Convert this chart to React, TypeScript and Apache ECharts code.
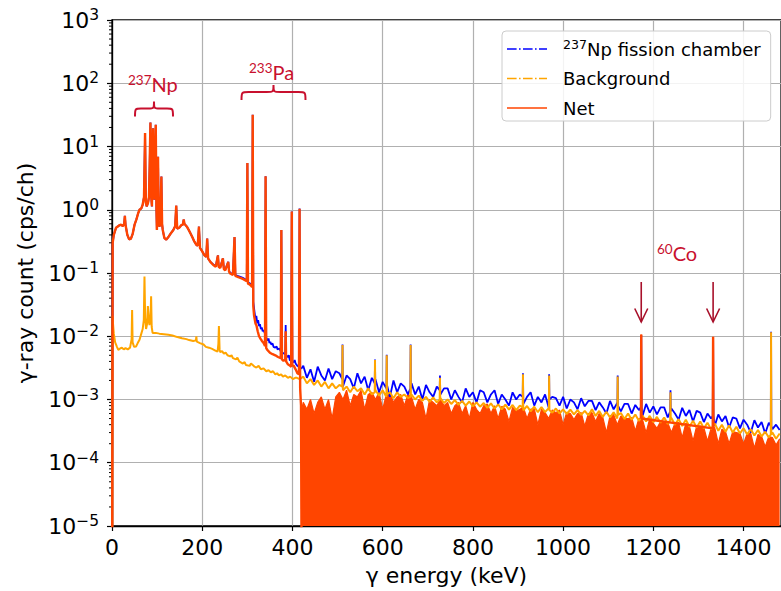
import React, { useEffect, useRef } from "react";
import * as echarts from "echarts";

type P = [number, number];

// ---------- axes ----------
const xMin = 0;
const xMax = 1483;
const xStep = 200;
const yMin = 1e-5;
const yMax = 1e3;

// ---------- legend ----------
const legendNames = ["237Np fission chamber", "Background", "Net"];

// ---------- Net (0 - 420 keV), [keV, cps/ch] ----------
const netLow: P[] = [
  [0.3, 1e-6], [1.5, 0.30], [4, 0.40], [9, 0.52], [15, 0.56], [20, 0.58], [24, 0.55], [27, 0.60], [28.5, 0.80], [30, 0.58],
  [34, 0.40], [38, 0.34], [42, 0.35], [46, 0.42], [50, 0.58], [54, 0.70], [58, 0.88], [61, 1.0], [65, 1.05], [68, 1.2],
  [71, 1.6], [73.3, 16.3], [75, 1.3], [77, 1.13], [80, 1.3], [82, 1.6], [83.5, 5.0], [85.2, 23.9], [87, 1.6], [88.5, 1.13],
  [89.5, 4.0], [91, 19.5], [92.5, 2.0], [93.5, 1.44], [95, 3.5], [97, 22], [98.5, 1.0], [99.5, 0.48], [100.8, 1.2], [102, 6.9],
  [103.5, 0.8], [105, 0.54], [107, 0.6], [109.5, 3.36], [111, 0.6], [112.5, 0.48], [116, 0.36], [120, 0.336], [125, 0.37], [131, 0.43],
  [136, 0.48], [140, 0.55], [142.4, 1.16], [144.5, 0.5], [149, 0.52], [153.5, 0.57], [157, 0.58], [159, 0.7], [160.5, 0.6], [166, 0.54],
  [170, 0.48], [173.5, 0.43], [178, 0.37], [182, 0.32], [186.8, 0.28], [190, 0.27], [192.7, 0.54], [195, 0.25], [200, 0.22], [205, 0.19],
  [209, 0.18], [211, 0.35], [213, 0.17], [218, 0.15], [224, 0.135], [230, 0.125], [234.8, 0.19], [236.5, 0.125], [240, 0.12], [245.8, 0.17],
  [248, 0.115], [251, 0.11], [257.7, 0.15], [259.5, 0.105], [262, 0.098], [268, 0.093], [271.6, 0.37], [273.5, 0.09], [280, 0.086], [286, 0.083],
  [291, 0.08], [296, 0.076], [298.8, 0.074], [300.1, 5.5], [301.4, 0.068], [305, 0.066], [309, 0.062], [310.6, 0.06], [311.9, 31.7], [313.2, 0.03],
  [315, 0.021], [318, 0.016], [320, 0.015], [323, 0.012], [326, 0.010], [329, 0.0092], [332, 0.0085], [336, 0.0078], [339.2, 0.007], [340.5, 3.4],
  [341.8, 0.0065], [345, 0.006], [350, 0.0055], [356, 0.0052], [362, 0.005], [368, 0.0047], [374.1, 0.0045], [375.4, 0.48], [376.7, 0.0043], [380, 0.0041],
  [384, 0.0042], [385, 0.012], [386, 0.004], [390, 0.0036], [395, 0.0034], [397.2, 0.0033], [398.5, 0.94], [399.8, 0.0035], [403, 0.0034], [407, 0.0030],
  [411, 0.0026], [414.5, 0.0025], [415.8, 1.04], [417.1, 0.0015], [419, 0.0008], [420.5, 1e-6],
];

// ---------- 237Np fission chamber (0 - 420 keV) ----------
const blueLow: P[] = [
  [0.3, 1e-6], [1.5, 0.30], [4, 0.40], [9, 0.52], [15, 0.56], [20, 0.58], [24, 0.55], [27, 0.60], [28.5, 0.80], [30, 0.58],
  [34, 0.40], [38, 0.34], [42, 0.35], [46, 0.42], [50, 0.58], [54, 0.70], [58, 0.88], [61, 1.0], [65, 1.05], [68, 1.2],
  [71, 1.6], [73.3, 16.3], [75, 1.3], [77, 1.13], [80, 1.3], [82, 1.6], [83.5, 5.0], [85.2, 23.9], [87, 1.6], [88.5, 1.13],
  [89.5, 4.0], [91, 19.5], [92.5, 2.0], [93.5, 1.44], [95, 3.5], [97, 22], [98.5, 1.0], [99.5, 0.48], [100.8, 1.2], [102, 6.9],
  [103.5, 0.8], [105, 0.54], [107, 0.6], [109.5, 3.36], [111, 0.6], [112.5, 0.48], [116, 0.36], [120, 0.336], [125, 0.37], [131, 0.43],
  [136, 0.48], [140, 0.55], [142.4, 1.16], [144.5, 0.5], [149, 0.52], [153.5, 0.57], [157, 0.58], [159, 0.7], [160.5, 0.6], [166, 0.54],
  [170, 0.48], [173.5, 0.43], [178, 0.37], [182, 0.32], [186.8, 0.28], [190, 0.27], [192.7, 0.54], [195, 0.25], [200, 0.22], [205, 0.19],
  [209, 0.18], [211, 0.35], [213, 0.17], [218, 0.15], [224, 0.138], [230, 0.128], [234.8, 0.19], [236.5, 0.128], [240, 0.124], [245.8, 0.17],
  [248, 0.118], [251, 0.113], [257.7, 0.15], [259.5, 0.108], [262, 0.101], [268, 0.096], [271.6, 0.37], [273.5, 0.093], [280, 0.089], [286, 0.086],
  [291, 0.083], [296, 0.079], [298.8, 0.077], [300.1, 5.5], [301.4, 0.071], [305, 0.069], [309, 0.066], [310.6, 0.064], [311.9, 31.7], [313.2, 0.035],
  [316, 0.024], [318, 0.019], [320, 0.021], [322, 0.016], [324, 0.018], [326, 0.0145], [328, 0.0155], [330, 0.013], [332, 0.0138], [334, 0.012],
  [336, 0.0125], [339.2, 0.011], [340.5, 3.4], [341.8, 0.0095], [345, 0.0085], [347, 0.0092], [349, 0.0078], [351, 0.0082], [353, 0.0074], [356, 0.0077],
  [358, 0.0068], [362, 0.0066], [365, 0.0069], [367, 0.0062], [371, 0.0064], [374.1, 0.0058], [375.4, 0.48], [376.7, 0.0056], [380, 0.0054], [384, 0.0052],
  [385, 0.015], [386, 0.005], [390, 0.0047], [392, 0.0050], [394, 0.0042], [397.2, 0.0041], [398.5, 0.94], [399.8, 0.004], [403, 0.0039], [405, 0.0042],
  [407, 0.0037], [411, 0.0034], [414.5, 0.0033], [415.8, 1.05], [417.1, 0.0032], [420, 0.0031],
];

// ---------- Background (0 - 420 keV) ----------
const bgLow: P[] = [
  [0.5, 1e-6], [1.2, 0.021], [2.5, 0.015], [4, 0.011], [7, 0.008], [11, 0.0068], [14, 0.0061], [18, 0.0064], [22, 0.0066], [26, 0.0062],
  [30, 0.0065], [35, 0.0062], [40, 0.0066], [43.5, 0.009], [44.6, 0.026], [45.7, 0.008], [49, 0.0068], [53.5, 0.0069], [57, 0.0078], [61, 0.0088],
  [65, 0.011], [68, 0.013], [70.5, 0.018], [72, 0.088], [73.5, 0.02], [75.5, 0.013], [78, 0.016], [79.5, 0.03], [81, 0.022], [83, 0.015],
  [85.5, 0.02], [86.7, 0.043], [88, 0.014], [90, 0.0113], [97, 0.0113], [105, 0.011], [115, 0.0108], [125, 0.0106], [134, 0.0103], [145, 0.0097],
  [155, 0.0093], [165, 0.009], [171, 0.0087], [180, 0.0084], [186, 0.0086], [187, 0.01], [188, 0.0082], [195, 0.0078], [203, 0.0074], [208, 0.0068],
  [215, 0.0066], [222, 0.0063], [228, 0.006], [234, 0.0057], [235.8, 0.0076], [237, 0.0145], [238.5, 0.0062], [240, 0.0056], [244, 0.0058], [248, 0.0053],
  [252, 0.0055], [256, 0.005], [262, 0.0048], [265, 0.0050], [268, 0.0045], [275, 0.0043], [278, 0.0046], [282, 0.004], [290, 0.0037], [294, 0.0039],
  [297, 0.0035], [305, 0.0034], [308, 0.0037], [312, 0.0035], [316, 0.0033], [320, 0.0032], [325, 0.0034], [330, 0.003], [336, 0.0031], [342, 0.0028],
  [347, 0.0029], [352, 0.0027], [357, 0.0028], [362, 0.0025], [366, 0.0026], [370, 0.0024], [375, 0.0025], [379, 0.0023], [384, 0.0024], [390, 0.0022],
  [395, 0.0023], [401, 0.0021], [406, 0.0022], [410, 0.0022], [416, 0.0021], [420, 0.0022],
];

// ---------- 420 - 1480 keV continuum ----------
const noiseEnergy = [
  424, 432, 440, 448, 456, 464, 472, 480, 488, 496,
  504, 512, 520, 528, 536, 544, 552, 560, 568, 576,
  584, 592, 600, 608, 616, 624, 632, 640, 648, 656,
  664, 672, 680, 688, 696, 704, 712, 720, 728, 736,
  744, 752, 760, 768, 776, 784, 792, 800, 808, 816,
  824, 832, 840, 848, 856, 864, 872, 880, 888, 896,
  904, 912, 920, 928, 936, 944, 952, 960, 968, 976,
  984, 992, 1000, 1008, 1016, 1024, 1032, 1040, 1048, 1056,
  1064, 1072, 1080, 1088, 1096, 1104, 1112, 1120, 1128, 1136,
  1144, 1152, 1160, 1168, 1176, 1184, 1192, 1200, 1208, 1216,
  1224, 1232, 1240, 1248, 1256, 1264, 1272, 1280, 1288, 1296,
  1304, 1312, 1320, 1328, 1336, 1344, 1352, 1360, 1368, 1376,
  1384, 1392, 1400, 1408, 1416, 1424, 1432, 1440, 1448, 1456, 1464, 1472, 1480,
];
const blueNoise = [
  0.0034, 0.0022, 0.0030, 0.0019, 0.0033, 0.0024, 0.0020, 0.0031, 0.0021, 0.0028,
  0.0026, 0.0016, 0.0024, 0.0021, 0.0015, 0.0026, 0.0018, 0.0023, 0.0014, 0.0022,
  0.0021, 0.0013, 0.0019, 0.0015, 0.0011, 0.0020, 0.0013, 0.0018, 0.0016, 0.0012,
  0.0018, 0.0012, 0.0016, 0.0010, 0.0017, 0.0013, 0.0011, 0.0016, 0.0012, 0.0015,
  0.0015, 0.0010, 0.0014, 0.0011, 0.0009, 0.0015, 0.0011, 0.0013, 0.0009, 0.0014,
  0.0013, 0.0009, 0.0012, 0.0014, 0.00085, 0.0012, 0.0010, 0.0008, 0.0013, 0.0010,
  0.0012, 0.00085, 0.0011, 0.0013, 0.0008, 0.0011, 0.0009, 0.0012, 0.00075, 0.0011,
  0.00105, 0.0008, 0.0011, 0.00072, 0.0010, 0.0009, 0.0007, 0.00105, 0.00078, 0.00095,
  0.00095, 0.00068, 0.0009, 0.00075, 0.0006, 0.00095, 0.0007, 0.00088, 0.00065, 0.00085,
  0.00085, 0.0006, 0.00082, 0.00068, 0.00055, 0.00085, 0.00062, 0.00078, 0.00058, 0.00075,
  0.00075, 0.00052, 0.00072, 0.0006, 0.00048, 0.00074, 0.00055, 0.00068, 0.00045, 0.00066,
  0.00062, 0.00044, 0.0006, 0.0005, 0.00038, 0.00058, 0.00045, 0.00055, 0.00036, 0.00052,
  0.0005, 0.00035, 0.00048, 0.0004, 0.0003, 0.00047, 0.00036, 0.00044, 0.00029, 0.00043, 0.00034, 0.0004, 0.00033,
];
const bgNoise = [
  0.0023, 0.0018, 0.0021, 0.0017, 0.0020, 0.0016, 0.0019, 0.0015, 0.0018, 0.0015,
  0.0017, 0.0014, 0.0016, 0.0013, 0.0016, 0.00135, 0.0015, 0.0012, 0.0015, 0.0012,
  0.0014, 0.00115, 0.0014, 0.0011, 0.0013, 0.00105, 0.0013, 0.0011, 0.0012, 0.00105,
  0.0012, 0.0010, 0.00115, 0.00095, 0.0011, 0.00092, 0.00108, 0.0009, 0.00105, 0.00088,
  0.0010, 0.00085, 0.00098, 0.00082, 0.00095, 0.0008, 0.00093, 0.00078, 0.0009, 0.00077,
  0.00088, 0.00074, 0.00087, 0.00072, 0.00084, 0.0007, 0.00083, 0.00069, 0.00082, 0.00068,
  0.0008, 0.00067, 0.00079, 0.00065, 0.00077, 0.00063, 0.00076, 0.00063, 0.00073, 0.00062,
  0.00072, 0.0006, 0.0007, 0.00059, 0.00069, 0.00058, 0.00068, 0.00057, 0.00066, 0.00056,
  0.0007, 0.00055, 0.00066, 0.00053, 0.00064, 0.00052, 0.00063, 0.0005, 0.00061, 0.00049,
  0.0006, 0.00048, 0.00058, 0.00046, 0.00056, 0.00045, 0.00055, 0.00044, 0.00053, 0.00043,
  0.00052, 0.00041, 0.00051, 0.0004, 0.00049, 0.00038, 0.00048, 0.00037, 0.00046, 0.00036,
  0.00045, 0.00035, 0.00043, 0.00034, 0.00042, 0.00032, 0.0004, 0.00031, 0.00039, 0.0003,
  0.00037, 0.00029, 0.00035, 0.00028, 0.00034, 0.00027, 0.00033, 0.00026, 0.00031, 0.00025, 0.0003, 0.00024, 0.00029,
];
// upper edge of the net counts (the lower edge is below 1e-5)
const netNoise = [
  0.0009, 0.0007, 0.0010, 0.0006, 0.0009, 0.0011, 0.0007, 0.0010, 0.0005, 0.0011,
  0.0013, 0.0010, 0.0014, 0.0008, 0.0012, 0.0011, 0.0014, 0.0007, 0.0012, 0.0013,
  0.0010, 0.0013, 0.0007, 0.0012, 0.0013, 0.0009, 0.0011, 0.0012, 0.0008, 0.0012,
  0.0011, 0.0007, 0.0010, 0.0009, 0.0005, 0.0010, 0.0009, 0.0008, 0.0010, 0.0008,
  0.0009, 0.0006, 0.0008, 0.0009, 0.0006, 0.0008, 0.0005, 0.0009, 0.0007, 0.0006,
  0.0008, 0.00085, 0.0006, 0.0008, 0.0005, 0.00078, 0.0007, 0.00045, 0.00075, 0.00065,
  0.0007, 0.00075, 0.0005, 0.0007, 0.00072, 0.0004, 0.0007, 0.00062, 0.0005, 0.00068,
  0.00062, 0.00068, 0.0004, 0.00063, 0.0006, 0.00048, 0.0006, 0.00062, 0.00038, 0.0006,
  0.00062, 0.00045, 0.0006, 0.00052, 0.0003, 0.00055, 0.00058, 0.0004, 0.00055, 0.0005,
  0.0005, 0.00052, 0.00032, 0.0005, 0.00048, 0.0003, 0.0005, 0.00042, 0.00035, 0.00045,
  0.00044, 0.00043, 0.0003, 0.00042, 0.00043, 0.00025, 0.00042, 0.00038, 0.00022, 0.00038,
  0.00038, 0.00036, 0.00022, 0.00035, 0.00036, 0.0002, 0.00034, 0.00031, 0.0002, 0.00031,
  0.0003, 0.00029, 0.0002, 0.00029, 0.00029, 0.00017, 0.00028, 0.00026, 0.00018, 0.00026, 0.00025, 0.00019, 0.00024,
];

// ---------- lines above 420 keV ----------
const bluePeaks: P[] = [
  [510.4, 0.0021], [511, 0.0074], [511.6, 0.0021],
  [582.4, 0.0018], [583, 0.0043], [583.6, 0.0018],
  [608.4, 0.0017], [609, 0.0051], [609.6, 0.0017],
  [661.4, 0.0015], [662, 0.0074], [662.6, 0.0015],
  [726.4, 0.0014], [727, 0.0024], [727.6, 0.0014],
  [910.4, 0.0011], [911, 0.0026], [911.6, 0.0011],
  [968.4, 0.0010], [969, 0.0025], [969.6, 0.0010],
  [1120.4, 0.0008], [1121, 0.0024], [1121.6, 0.0008],
  [1172.4, 0.00075], [1173.2, 0.0105], [1174, 0.00075],
  [1237.4, 0.00065], [1238, 0.0014], [1238.6, 0.00065],
  [1331.7, 0.00055], [1332.5, 0.0096], [1333.3, 0.00055],
  [1460.4, 0.00038], [1461, 0.0118], [1461.6, 0.00038],
];
const bgPeaks: P[] = [
  [510.4, 0.0016], [511, 0.0073], [511.6, 0.0016],
  [582.4, 0.0013], [583, 0.0042], [583.6, 0.0013],
  [608.4, 0.0012], [609, 0.0050], [609.6, 0.0012],
  [661.4, 0.0011], [662, 0.0073], [662.6, 0.0011],
  [726.4, 0.0010], [727, 0.0022], [727.6, 0.0010],
  [910.4, 0.00075], [911, 0.0025], [911.6, 0.00075],
  [968.4, 0.00068], [969, 0.0024], [969.6, 0.00068],
  [1120.4, 0.00057], [1121, 0.0023], [1121.6, 0.00057],
  [1237.4, 0.00047], [1238, 0.0013], [1238.6, 0.00047],
  [1460.4, 0.00028], [1461, 0.0116], [1461.6, 0.00028],
];
const netEdge: P[] = [[420.6, 0.0007]];
const netCoPeaks: P[] = [
  [1172.4, 0.0005], [1173.2, 0.0107], [1174, 0.0005],
  [1331.7, 0.00035], [1332.5, 0.0098], [1333.3, 0.00035],
];

// ---------- annotations ----------
const coLines = [1173.2, 1332.5];

const annColor = "#C8102E";
const arrowColor = "#A8102A";
const FONT = "DejaVu Sans";
const ANN_FONT = "Lato";

function bracePath(w: number, h: number, r: number) {
  const m = h * 0.47;
  const c = w / 2;
  return `M0 ${h} C0 ${m} 0 ${m} ${r} ${m} L${c - r} ${m} C${c} ${m} ${c} ${m} ${c} 0 C${c} ${m} ${c} ${m} ${c + r} ${m} L${w - r} ${m} C${w} ${m} ${w} ${m} ${w} ${h}`;
}
echarts.graphic.registerShape("braceNp", echarts.graphic.extendPath(bracePath(38, 15, 6), {}) as any);
echarts.graphic.registerShape("bracePa", echarts.graphic.extendPath(bracePath(64, 15, 7), {}) as any);

const pairs = (xs: number[], ys: number[]): P[] => xs.map((x, i) => [x, ys[i]] as P);
const merge = (...lists: P[][]): P[] => ([] as P[]).concat(...lists).sort((a, b) => a[0] - b[0]);

// legend icons: dash-dot and solid strokes, 40 x 1.6
const ICON_DASHDOT =
  "path://M0,0h9.6v1.6h-9.6z M12,0h1.6v1.6h-1.6z M16,0h9.6v1.6h-9.6z M28,0h1.6v1.6h-1.6z M32,0h8v1.6h-8z";
const ICON_SOLID = "path://M0,0h40v1.6h-40z";

function supText(sup: string, base: string, supSize: number, baseSize: number, fill: string) {
  return {
    text: `{s|${sup}}{b|${base}}`,
    rich: {
      s: { fontSize: supSize, fontFamily: ANN_FONT, fill, lineHeight: 12, verticalAlign: "top" },
      b: { fontSize: baseSize, fontFamily: ANN_FONT, fill, lineHeight: 22 },
    },
    verticalAlign: "top",
    align: "left",
    fill,
  };
}

export default function App() {
  const ref = useRef<HTMLDivElement>(null);

  useEffect(() => {
    const chart = echarts.init(ref.current!, null, { renderer: "svg" });

    const netBase = { type: "line", symbol: "none", silent: true, itemStyle: { color: "#ff4500" } };

    const option: any = {
      animation: false,
      backgroundColor: "#ffffff",
      textStyle: { fontFamily: FONT },
      grid: {
        left: 112, right: -2, top: 20, bottom: 64,
        show: true, borderColor: "#000", borderWidth: 1.3, backgroundColor: "transparent",
      },
      legend: {
        data: [
          { name: legendNames[0], icon: ICON_DASHDOT },
          { name: legendNames[1], icon: ICON_DASHDOT },
          { name: legendNames[2], icon: ICON_SOLID },
        ],
        orient: "vertical",
        left: 502,
        top: 31,
        itemWidth: 40,
        itemHeight: 1.6,
        itemGap: 7.5,
        padding: [7, 10, 2, 5],
        backgroundColor: "rgba(255,255,255,0.85)",
        borderColor: "#cccccc",
        borderWidth: 1,
        borderRadius: 4,
        selectedMode: false,
        textStyle: {
          fontSize: 18, fontFamily: FONT, color: "#000", lineHeight: 22, padding: [0, 0, 0, 11],
          rich: {
            sup: { fontSize: 12.6, fontFamily: FONT, color: "#000", lineHeight: 12, verticalAlign: "top" },
            t: { fontSize: 18, fontFamily: FONT, color: "#000", lineHeight: 22 },
          },
        },
        formatter: (name: string) =>
          name.startsWith("237") ? `{sup|237}{t|${name.slice(3)}}` : `{t|${name}}`,
      },
      xAxis: {
        type: "value",
        min: xMin,
        max: xMax,
        interval: xStep,
        name: "γ energy (keV)",
        nameLocation: "middle",
        nameGap: 38,
        nameTextStyle: { fontSize: 22, color: "#000", fontFamily: FONT },
        axisLine: { show: true, onZero: false, lineStyle: { color: "#000", width: 1.3 } },
        axisTick: { show: true, inside: false, length: 5, lineStyle: { color: "#000", width: 1.2 } },
        axisLabel: {
          fontSize: 22, color: "#000", fontFamily: FONT, margin: 10, showMaxLabel: false,
          formatter: (v: number) => String(v),
        },
        splitLine: { show: true, lineStyle: { color: "#b0b0b0", width: 1.2 } },
      },
      yAxis: {
        type: "log",
        logBase: 10,
        min: yMin,
        max: yMax,
        interval: 1,
        name: "γ-ray count (cps/ch)",
        nameLocation: "middle",
        nameGap: 76,
        nameTextStyle: { fontSize: 22, color: "#000", fontFamily: FONT },
        axisLine: { show: true, lineStyle: { color: "#000", width: 1.3 } },
        axisTick: { show: true, inside: false, length: 5, lineStyle: { color: "#000", width: 1.2 } },
        axisLabel: {
          margin: 13,
          formatter: (v: number) => {
            const e = Math.round(Math.log10(v));
            return `{b|10}{s|${e < 0 ? "\u2212" + -e : e}}`;
          },
          rich: {
            b: { fontSize: 22, fontFamily: FONT, color: "#000", lineHeight: 26 },
            s: { fontSize: 15.5, fontFamily: FONT, color: "#000", lineHeight: 14, verticalAlign: "top" },
          },
        },
        splitLine: { show: true, lineStyle: { color: "#b0b0b0", width: 1.2 } },
      },
      series: [
        {
          name: legendNames[0],
          type: "line",
          data: merge(blueLow, pairs(noiseEnergy, blueNoise), bluePeaks),
          symbol: "none",
          z: 2,
          silent: true,
          itemStyle: { color: "#0000ff" },
          lineStyle: { color: "#0000ff", width: 1.8 },
        },
        {
          name: legendNames[1],
          type: "line",
          data: merge(bgLow, pairs(noiseEnergy, bgNoise), bgPeaks),
          symbol: "none",
          z: 3,
          silent: true,
          itemStyle: { color: "#ffa500" },
          lineStyle: { color: "#ffa500", width: 2 },
        },
        {
          ...netBase,
          name: legendNames[2],
          data: netLow,
          z: 4,
          lineStyle: { color: "#ff4500", width: 2.4 },
        },
        {
          ...netBase,
          name: legendNames[2],
          data: merge(netEdge, pairs(noiseEnergy, netNoise), netCoPeaks),
          z: 1,
          lineStyle: { color: "#ff4500", width: 1.2 },
          areaStyle: { color: "#ff4500", opacity: 1, origin: "start" },
        },
        {
          ...netBase,
          name: legendNames[2],
          data: netCoPeaks,
          z: 5,
          lineStyle: { color: "#ff4500", width: 2.4 },
        },
      ],
    };

    chart.setOption(option);

    const leftPx = chart.convertToPixel({ xAxisIndex: 0 }, xMin) as number;
    const minorTicks: any[] = [];
    for (let d = -5; d < 3; d++) {
      for (let m = 2; m <= 9; m++) {
        const y = chart.convertToPixel({ yAxisIndex: 0 }, m * Math.pow(10, d)) as number;
        minorTicks.push({
          type: "line",
          silent: true,
          shape: { x1: leftPx - 3, y1: y, x2: leftPx, y2: y },
          style: { stroke: "#000", lineWidth: 1 },
        });
      }
    }

    const arrows: any[] = [];
    coLines.forEach((e) => {
      const x = chart.convertToPixel({ xAxisIndex: 0 }, e) as number;
      arrows.push({
        type: "line", silent: true,
        shape: { x1: x, y1: 282, x2: x, y2: 322 },
        style: { stroke: arrowColor, lineWidth: 1.6 },
      });
      arrows.push({
        type: "polyline", silent: true,
        shape: { points: [[x - 6.5, 308.5], [x, 322], [x + 6.5, 308.5]] },
        style: { stroke: arrowColor, lineWidth: 1.6, fill: "none" },
      });
    });

    chart.setOption({
      graphic: [
        ...minorTicks,
        { type: "text", x: 128, y: 72.5, silent: true, style: supText("237", "Np", 13.5, 20, annColor) },
        { type: "braceNp", x: 135, y: 101.5, silent: true, style: { stroke: annColor, lineWidth: 2, fill: "none" } },
        { type: "text", x: 249, y: 61, silent: true, style: supText("233", "Pa", 13.5, 20, annColor) },
        { type: "bracePa", x: 241.5, y: 85, silent: true, style: { stroke: annColor, lineWidth: 2, fill: "none" } },
        { type: "text", x: 657, y: 242, silent: true, style: supText("60", "Co", 13.5, 20, annColor) },
        ...arrows,
      ],
    });

    return () => chart.dispose();
  }, []);

  return (
    <div
      ref={ref}
      style={{ position: "fixed", left: 0, top: 0, width: 781, height: 591, background: "#fff" }}
    />
  );
}
